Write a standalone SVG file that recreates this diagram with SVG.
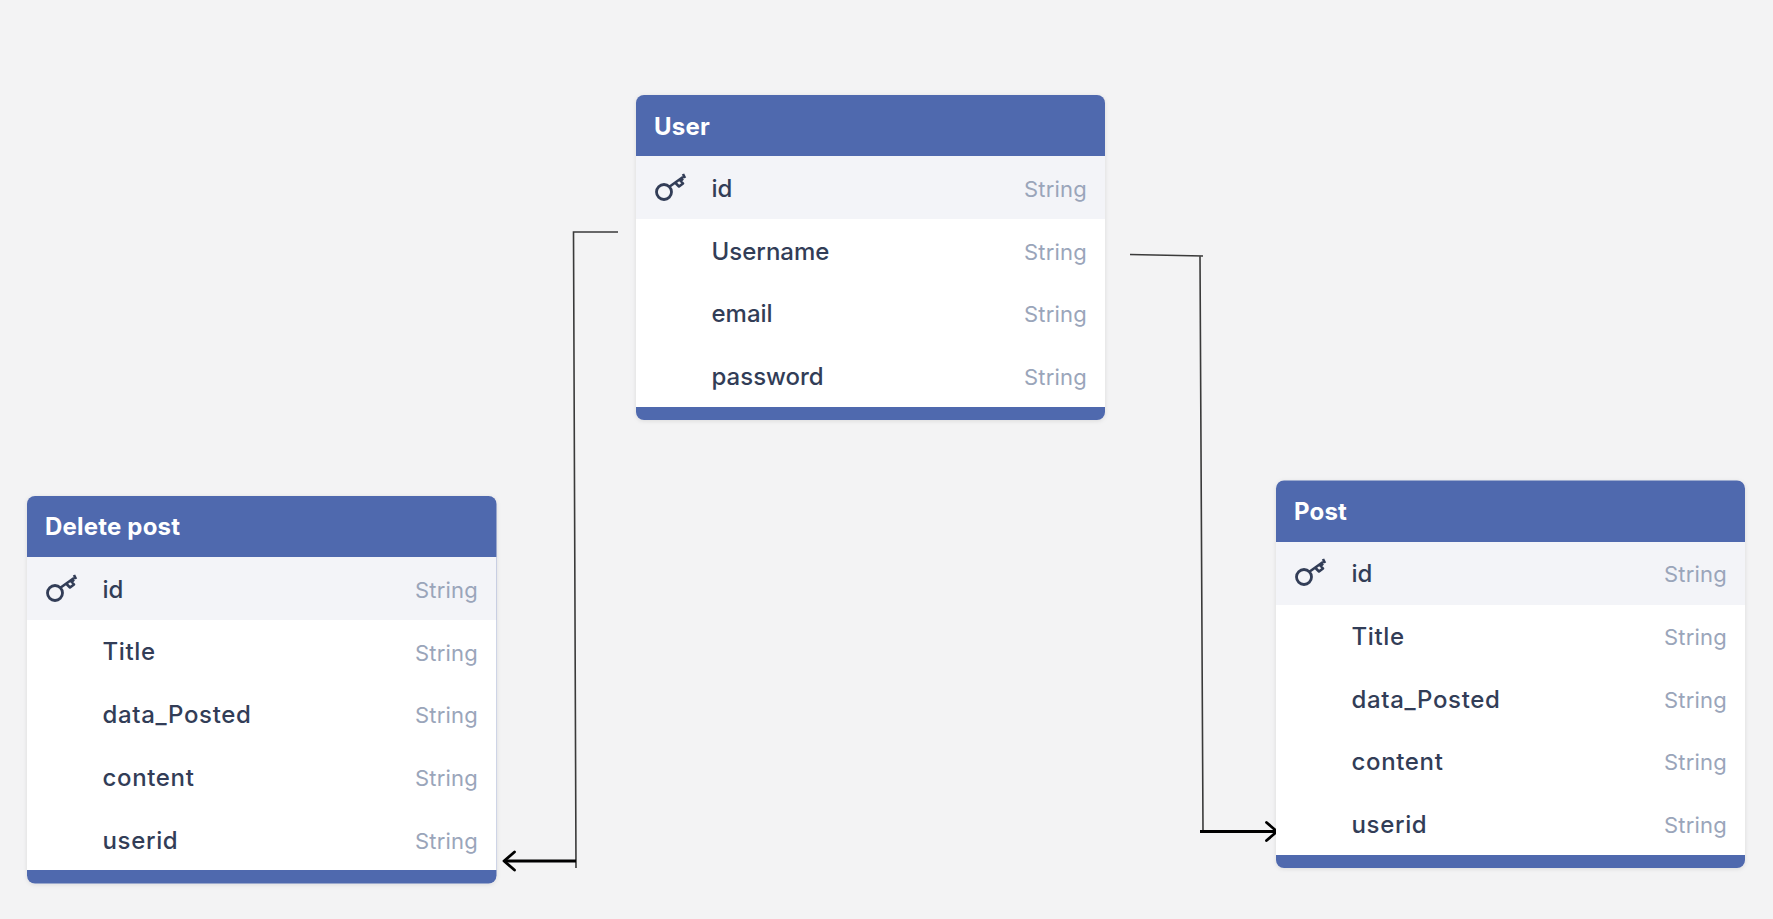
<svg xmlns="http://www.w3.org/2000/svg" width="1773" height="919" viewBox="0 0 1773 919">
<defs>
<filter id="sh" x="-5%" y="-5%" width="110%" height="110%"><feDropShadow dx="0" dy="1" stdDeviation="2" flood-color="#000" flood-opacity="0.10"/></filter>
<marker id="arrow" viewBox="0 0 16 24" refX="13.500" refY="12" markerWidth="16" markerHeight="24" markerUnits="userSpaceOnUse" orient="auto"><path d="M3 3L13.500 12L3 21" fill="none" stroke="#000" stroke-width="2.800" stroke-linecap="round" stroke-linejoin="round"/></marker>
<g id="key"><circle cx="-7" cy="5" r="7.500" fill="none" stroke="#323d57" stroke-width="2.800"/><path d="M-2 0L12-10M4-4.500L8-0.500L12-3.500L8.500-7.500M9.500-9L12-6.500M12-13L14-9" fill="none" stroke="#323d57" stroke-width="2.600" stroke-linejoin="round"/></g>
</defs>
<style>
text{font-family:"Inter","Noto Sans",sans-serif}
.hd{font-size:24px;font-weight:650;fill:#fff;letter-spacing:.2px}
.nm{font-size:24px;font-weight:500;fill:#323d57}
.wd{letter-spacing:.65px}
.ty{font-size:22px;font-weight:400;fill:#9aa5ba;text-anchor:end;letter-spacing:.2px}
.body{fill:#fff}.pk{fill:#f3f4f8}.blue{fill:#5069ae}
.ln{fill:none;stroke:#3a3a3a;stroke-width:1.600}
.ar{fill:none;stroke:#000;stroke-width:2.800}
</style>
<rect width="1773" height="919" fill="#f3f3f4"/>
<g id="connectors">
<path class="ln" d="M618 232H573.500L576 868"/>
<path class="ar" d="M576 861H504" marker-end="url(#arrow)"/>
<path class="ln" d="M1130 254.500L1203 256M1200 256L1203 831"/>
<path class="ar" d="M1200 831.500H1277" marker-end="url(#arrow)"/>
</g>
<g id="user">
<rect class="blue" x="636" y="95" width="469" height="325" rx="8" filter="url(#sh)"/>
<rect class="pk" x="636" y="156" width="469" height="63"/>
<rect class="body" x="636" y="219" width="469" height="188"/>
<text class="hd" x="654" y="135">User</text>
<use href="#key" x="671" y="187"/>
<text class="nm" x="711.500" y="197">id</text><text class="ty" x="1087" y="197">String</text>
<text class="nm" x="711.500" y="259.500">Username</text><text class="ty" x="1087" y="259.500">String</text>
<text class="nm" x="711.500" y="322">email</text><text class="ty" x="1087" y="322">String</text>
<text class="nm" x="711.500" y="385">password</text><text class="ty" x="1087" y="385">String</text>
</g>
<g id="delete-post">
<rect class="blue" x="27" y="496" width="469.500" height="387.500" rx="8" filter="url(#sh)"/>
<rect class="pk" x="27" y="557" width="469.500" height="63"/>
<rect class="body" x="27" y="620" width="469.500" height="250"/>
<text class="hd" x="45" y="535">Delete post</text>
<use href="#key" x="62" y="588"/>
<text class="nm" x="102.500" y="598">id</text><text class="ty" x="478" y="598">String</text>
<text class="nm wd" x="102.500" y="660">Title</text><text class="ty" x="478" y="660.500">String</text>
<text class="nm wd" x="102.500" y="723">data_Posted</text><text class="ty" x="478" y="723">String</text>
<text class="nm wd" x="102.500" y="786">content</text><text class="ty" x="478" y="786">String</text>
<text class="nm wd" x="102.500" y="848.500">userid</text><text class="ty" x="478" y="848.500">String</text>
</g>
<g id="post">
<rect class="blue" x="1276" y="480.500" width="469" height="387.500" rx="8" filter="url(#sh)"/>
<rect class="pk" x="1276" y="542" width="469" height="63"/>
<rect class="body" x="1276" y="605" width="469" height="250"/>
<text class="hd" x="1294" y="520">Post</text>
<use href="#key" x="1311" y="572"/>
<text class="nm" x="1351.500" y="582">id</text><text class="ty" x="1727" y="582">String</text>
<text class="nm wd" x="1351.500" y="645">Title</text><text class="ty" x="1727" y="645">String</text>
<text class="nm wd" x="1351.500" y="707.500">data_Posted</text><text class="ty" x="1727" y="707.500">String</text>
<text class="nm wd" x="1351.500" y="770">content</text><text class="ty" x="1727" y="770">String</text>
<text class="nm wd" x="1351.500" y="832.500">userid</text><text class="ty" x="1727" y="832.500">String</text>
</g>
</svg>
